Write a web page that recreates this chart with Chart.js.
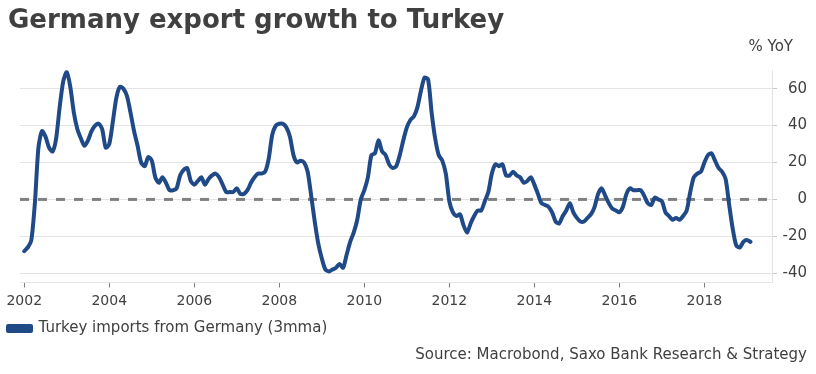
<!DOCTYPE html>
<html><head><meta charset="utf-8">
<script src="https://cdn.jsdelivr.net/npm/chart.js@4.4.1/dist/chart.umd.min.js"></script>
<style>html,body{margin:0;padding:0;background:#fff;} #wrap{width:816px;height:374px;}</style>
</head><body><div id="wrap"><canvas id="c" width="816" height="374"></canvas></div>
<script>
const chartTitle = 'Germany export growth to Turkey';
const unitLabel = '% YoY';
const seriesName = 'Turkey imports from Germany (3mma)';
const sourceText = 'Source: Macrobond, Saxo Bank Research & Strategy';

// Monthly observations, first one = January 2002
const startYear = 2002;
const values = [
  -28, -26, -22, -2, 28, 37, 34, 28, 26, 33, 50, 64,
  69, 61, 47, 38, 33, 29, 32, 37, 40, 41, 38, 28,
  30, 42, 55, 61, 60, 56, 47, 37, 29, 20, 18, 23,
  21, 12, 9, 12, 9, 5, 5, 6, 13, 16, 17, 10,
  8, 10, 12, 8, 11, 13, 14, 12, 8, 4, 4, 4,
  6, 3, 3, 5, 9, 12, 14, 14, 15, 22, 35, 40,
  41, 41, 39, 34, 24, 20, 21, 20, 15, 2, -12, -24,
  -32, -38, -39, -38, -37, -35, -37, -30, -23, -18, -11, 0,
  5, 12, 24, 25, 32, 26, 24, 19, 17, 18, 24, 32,
  39, 43, 45, 50, 59, 66, 65, 47, 33, 24, 21, 14,
  -1, -7, -9, -8, -14, -18, -13, -9, -6, -6, -1, 4,
  14, 19, 18, 19, 13, 13, 15, 13, 12, 9, 10, 12,
  8, 3, -2, -3, -4, -7, -12, -13, -9, -6, -2, -7,
  -10, -12, -12, -10, -8, -4, 3, 6, 2, -2, -5, -6,
  -7, -4, 3, 6, 5, 5, 5, 2, -2, -3, 1, 0,
  -1, -7, -9, -11, -10, -11, -9, -6, 4, 12, 14, 15,
  20, 24, 25, 21, 17, 15, 11, -3, -16, -25, -26, -23,
  -22, -23
];
const yearTicks = [2002, 2004, 2006, 2008, 2010, 2012, 2014, 2016, 2018];
const valueTicks = [-40, -30, -20, -10, 0, 10, 20, 30, 40, 50, 60, 70];
const valueLabels = [-40, -20, 0, 20, 40, 60];
const xMin = 2001.9, xMax = 2019.59;
const yMin = -45, yMax = 70;

const points = values.map((v, i) => ({ x: startYear + i / 12, y: v }));
const zeroLine = [{ x: xMin, y: 0 }, { x: xMax, y: 0 }];

const FONT = '"DejaVu Sans", Verdana, sans-serif';
Chart.defaults.font.family = FONT;
Chart.defaults.color = '#404040';

const LEGEND_PAD = 4;
const unitPlugin = {
  id: 'unitLabel',
  afterLayout(chart) {
    // keep legend swatch flush with the title's left edge
    chart.legend.left -= LEGEND_PAD;
    chart.legend.right -= LEGEND_PAD;
  },
  afterDraw(chart) {
    const { ctx, chartArea } = chart;
    ctx.save();
    ctx.font = '15px ' + FONT;
    ctx.fillStyle = '#404040';
    ctx.textAlign = 'right';
    ctx.textBaseline = 'middle';
    ctx.fillText(unitLabel, chartArea.right + 21, chartArea.top - 23);
    ctx.restore();
  }
};

new Chart(document.getElementById('c'), {
  type: 'line',
  data: {
    datasets: [
      { label: seriesName, data: points, borderColor: '#1f4a87', backgroundColor: '#1f4a87',
        borderWidth: 4, pointRadius: 0, tension: 0.25, order: 0,
        borderJoinStyle: 'round', borderCapStyle: 'round' },
      { label: 'zero', data: zeroLine, borderColor: '#808080', borderWidth: 3,
        borderDash: [9, 9], pointRadius: 0, order: 1 }
    ]
  },
  options: {
    responsive: false,
    animation: false,
    devicePixelRatio: 1,
    layout: { padding: { left: 8, right: 9, top: 0, bottom: 0 } },
    scales: {
      x: {
        type: 'linear', min: xMin, max: xMax,
        afterBuildTicks: s => { s.ticks = yearTicks.map(v => ({ value: v })); },
        afterFit: s => { s.paddingLeft = 20; s.height += 2.7; },
        ticks: { color: '#404040', font: { size: 14 }, padding: 5, maxRotation: 0, autoSkip: false,
                 callback: v => String(v) },
        grid: { drawOnChartArea: false, drawTicks: true, tickLength: 5, tickColor: '#808080' },
        border: { display: true, color: '#e6e6e6' }
      },
      y: {
        position: 'right', min: yMin, max: yMax,
        afterBuildTicks: s => { s.ticks = valueTicks.map(v => ({ value: v })); },
        afterFit: s => { s.width = 35; },
        ticks: { color: '#404040', font: { size: 15 }, padding: 7, crossAlign: 'far',
                 callback: v => valueLabels.includes(v) ? String(v) : '' },
        grid: { color: '#e4e4e4', lineWidth: 1, drawTicks: true, tickLength: 5, tickColor: '#c8c8c8' },
        border: { display: true, color: '#e4e4e4' }
      }
    },
    plugins: {
      title: { display: true, text: chartTitle, align: 'start', color: '#404040',
               font: { size: 26, weight: 'bold' }, padding: { top: 6, bottom: 33 } },
      subtitle: { display: true, position: 'bottom', align: 'end', text: sourceText, color: '#404040',
                  font: { size: 15 }, padding: { top: 0, bottom: 10 } },
      legend: { position: 'bottom', align: 'start',
                labels: { boxWidth: 23, boxHeight: 5, padding: LEGEND_PAD, color: '#404040', font: { size: 15 },
                          filter: item => item.datasetIndex === 0 } },
      tooltip: { enabled: false }
    }
  },
  plugins: [unitPlugin]
});
</script></body></html>
